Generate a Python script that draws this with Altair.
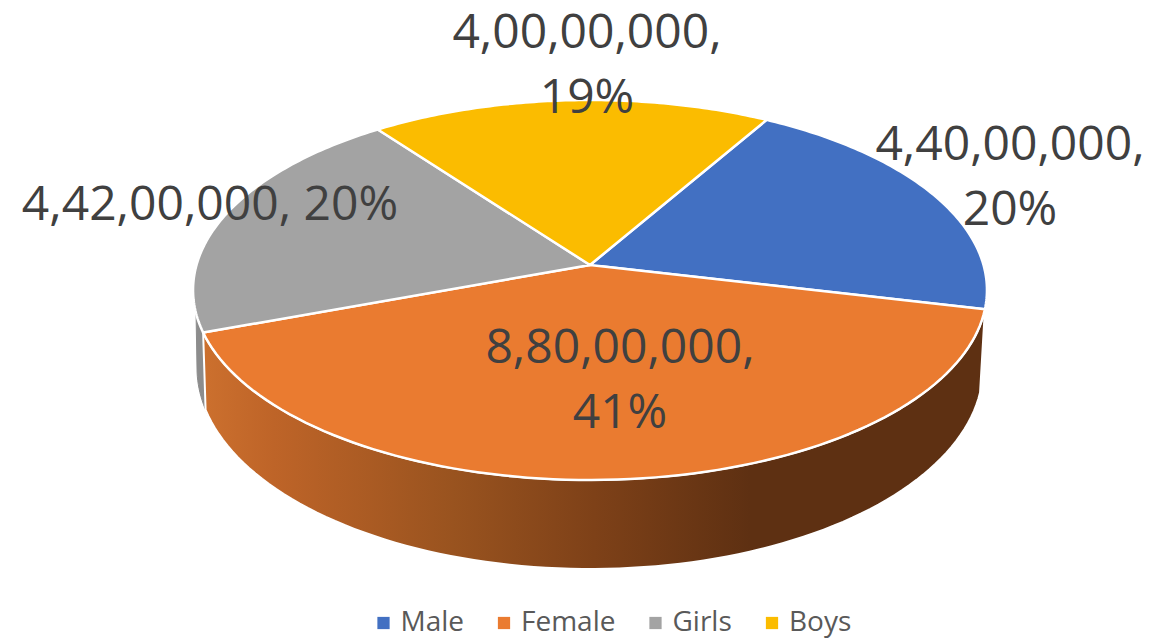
import math
import altair as alt

# ---- data ----
categories = ["Male", "Female", "Girls", "Boys"]
values = [44000000, 88000000, 44200000, 40000000]
labels = ["4,40,00,000,\n20%", "8,80,00,000,\n41%", "4,42,00,000, 20%", "4,00,00,000,\n19%"]
colors = ["#4270C2", "#EA7B30", "#A3A3A3", "#FBBC00"]

# ---- layout (picture pixels) ----
W, H = 1150, 632
APEX = (590, 265)
A, B, K = 393.5, 186.7, -0.1316      # perspective of the disk
LOW = (590, 368, 393, 201)           # lower rim ellipse
START = -60.0
label_x = [1010, 620, 210, 587]
label_y = [160, 363, 220, 48]


def disk(phi):
    u, v = math.cos(math.radians(phi)), math.sin(math.radians(phi))
    d = 1 + K * v
    return APEX[0] + A * u / d, APEX[1] + B * v / d


def low(t):
    return LOW[0] + LOW[2] * math.cos(math.radians(t)), LOW[1] + LOW[3] * math.sin(math.radians(t))


def frange(a, b, n=90):
    return [a + (b - a) * i / n for i in range(n + 1)]


total = sum(values)
edges = [START]
for val in values:
    edges.append(edges[-1] + 360 * val / total)

face_rows = []
for cat, a, b in zip(categories, edges[:-1], edges[1:]):
    pts = [APEX] + [disk(p) for p in frange(a, b)] + [APEX]
    face_rows += [{"cat": cat, "i": i, "x": x, "y": y} for i, (x, y) in enumerate(pts)]


def poly(pts):
    return [{"i": i, "x": x, "y": y} for i, (x, y) in enumerate(pts + pts[:1])]


orange_wall = poly([disk(p) for p in frange(edges[1], edges[2])] + [low(t) for t in frange(168, 7)])
gray_wall = poly([disk(p) for p in frange(edges[2], 165.5, 12)] + [low(t) for t in frange(180, 166, 12)])
label_rows = [{"t": t, "x": x, "y": y} for t, x, y in zip(labels, label_x, label_y)]

xs = alt.Scale(domain=[8, 8 + W], range=[0, W])
ys = alt.Scale(domain=[8, 8 + H], range=[0, H])
X = alt.X("x:Q", scale=xs, axis=None)
Y = alt.Y("y:Q", scale=ys, axis=None)
ORDER = alt.Order("i:Q")

wall_gradient = alt.Gradient(
    gradient="linear", x1=0, x2=1, y1=0, y2=0,
    stops=[
        alt.GradientStop(offset=0, color="#CC702E"),
        alt.GradientStop(offset=0.09, color="#BE6428"),
        alt.GradientStop(offset=0.32, color="#99531F"),
        alt.GradientStop(offset=0.5, color="#7E4118"),
        alt.GradientStop(offset=0.7, color="#5E3012"),
        alt.GradientStop(offset=1, color="#5E3012"),
    ],
)

gray_layer = alt.Chart(alt.Data(values=gray_wall)).mark_line(
    fill="#8C8C8C", stroke="#8C8C8C", strokeWidth=1
).encode(x=X, y=Y, order=ORDER)

orange_layer = alt.Chart(alt.Data(values=orange_wall)).mark_line(
    fill=wall_gradient, stroke="white", strokeWidth=2
).encode(x=X, y=Y, order=ORDER)

face_layer = alt.Chart(alt.Data(values=face_rows)).mark_line(
    stroke="white", strokeWidth=2.5, strokeJoin="round"
).encode(
    x=X, y=Y, order=ORDER,
    detail="cat:N",
    fill=alt.Fill(
        "cat:N",
        scale=alt.Scale(domain=categories, range=colors),
        legend=alt.Legend(
            title=None, orient="none", legendX=361.5, legendY=601, direction="horizontal",
            columns=4, columnPadding=25.5, symbolType="square", symbolSize=150,
            symbolStrokeWidth=0, labelFont="Open Sans", labelFontSize=28,
            labelColor="#595959", labelOffset=3, labelLimit=200, symbolOffset=0,
        ),
    ),
)

text_layer = alt.Chart(alt.Data(values=label_rows)).mark_text(
    font="Open Sans", fontSize=48, color="#404040", align="center",
    baseline="alphabetic", lineBreak="\n", lineHeight=65,
).encode(x=X, y=Y, text="t:N")

chart = alt.layer(gray_layer, orange_layer, face_layer, text_layer).properties(
    width=W, height=H, padding=0, autosize="none", background="white",
).configure_view(stroke=None)

chart.save("out.html", embed_options={"renderer": "svg", "actions": False})
